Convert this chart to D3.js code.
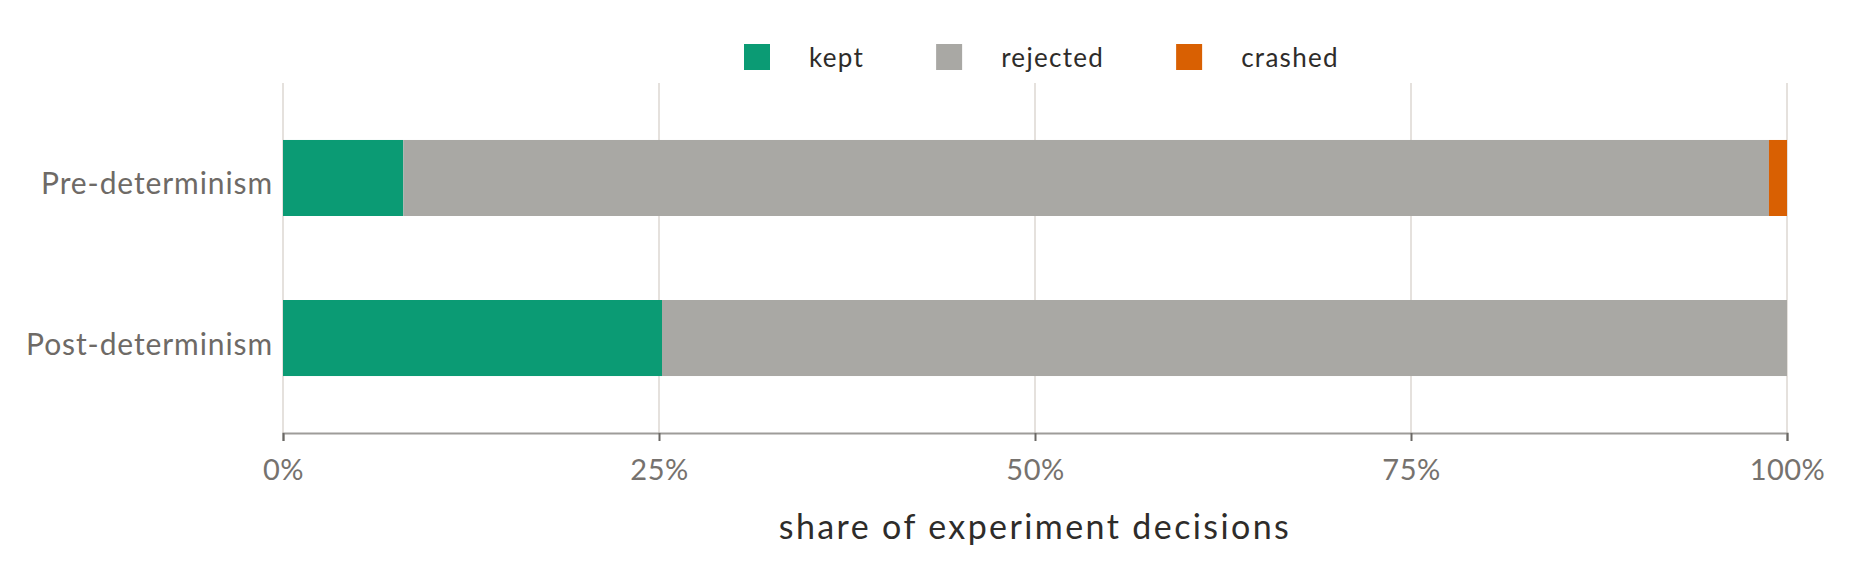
<!DOCTYPE html>
<html><head><meta charset="utf-8">
<script src="https://cdn.jsdelivr.net/npm/d3@7"></script>
<style>body{margin:0;background:#fff}svg{display:block}text{font-family:Lato,"Open Sans",sans-serif}</style>
</head><body><svg id="c" width="1854" height="580"></svg>
<script>
const categories = ["Pre-determinism", "Post-determinism"];
const seriesNames = ["kept", "rejected", "crashed"];
const kept = [8.0, 25.2];
const rejected = [90.8, 74.8];
const crashed = [1.2, 0.0];
const tickValues = [0, 25, 50, 75, 100];
const tickLabels = ["0%", "25%", "50%", "75%", "100%"];
const colors = ["#0b9b74", "#a9a8a4", "#d96002"];
const axisTitle = "share of experiment decisions";

const svg = d3.select("#c");
const m = {left: 283, right: 1854 - 1787, top: 83, bottom: 580 - 433};
const W = 1854, H = 580;
const x = d3.scaleLinear().domain([0, 100]).range([m.left, W - m.right]);
const y = d3.scaleBand().domain(categories).range([m.top, H - m.bottom]).paddingInner(0.525).paddingOuter(0.356);

// gridlines
svg.append("g").selectAll("line").data(tickValues).join("line")
  .attr("x1", d => x(d)).attr("x2", d => x(d))
  .attr("y1", m.top).attr("y2", H - m.bottom)
  .attr("stroke", "#e5e1dd").attr("stroke-width", 2);

const table = categories.map((c, i) => ({cat: c, kept: kept[i], rejected: rejected[i], crashed: crashed[i]}));
const stacked = d3.stack().keys(seriesNames)(table);

svg.append("g").selectAll("g").data(stacked).join("g")
  .attr("fill", (d, i) => colors[i])
  .selectAll("rect").data(d => d).join("rect")
  .attr("x", d => x(d[0])).attr("width", d => Math.max(0, x(d[1]) - x(d[0])))
  .attr("y", d => y(d.data.cat)).attr("height", y.bandwidth());

// x axis
const xAxis = svg.append("g").attr("transform", `translate(0,${H - m.bottom})`)
  .call(d3.axisBottom(x).tickValues(tickValues).tickFormat((d, i) => tickLabels[i]).tickSize(8).tickPadding(18));
xAxis.select(".domain").attr("stroke", "#9e9c99").attr("stroke-width", 2);
xAxis.selectAll(".tick line").attr("stroke", "#6b6865").attr("stroke-width", 2);
xAxis.selectAll(".tick text").attr("fill", "#76726e").attr("font-size", 29).attr("font-family", "Lato")
  .attr("letter-spacing", 0.5).attr("dy", "0.71em");

// y labels
svg.append("g").selectAll("text").data(categories).join("text")
  .attr("x", m.left - 10).attr("y", d => y(d) + y.bandwidth() / 2)
  .attr("dy", "0.55em").attr("text-anchor", "end")
  .attr("fill", "#6e6a66").attr("font-size", 30).attr("letter-spacing", 0.9).text(d => d);

// axis title
svg.append("text").attr("x", (x(0) + x(100)) / 2).attr("y", 539)
  .attr("text-anchor", "middle").attr("fill", "#2e2c2a").attr("font-size", 34).attr("letter-spacing", 2.4).text(axisTitle);

// legend
const lg = svg.append("g");
let lx = 744;
seriesNames.forEach((s, i) => {
  lg.append("rect").attr("x", lx).attr("y", 44).attr("width", 26).attr("height", 26).attr("fill", colors[i]);
  const t = lg.append("text").attr("x", lx + 65).attr("y", 57).attr("dy", "0.38em")
    .attr("fill", "#2e2c2a").attr("font-size", 26).attr("letter-spacing", 1.3).text(s);
  lx = lx + 65 + t.node().getComputedTextLength() + 72;
});
</script></body></html>
